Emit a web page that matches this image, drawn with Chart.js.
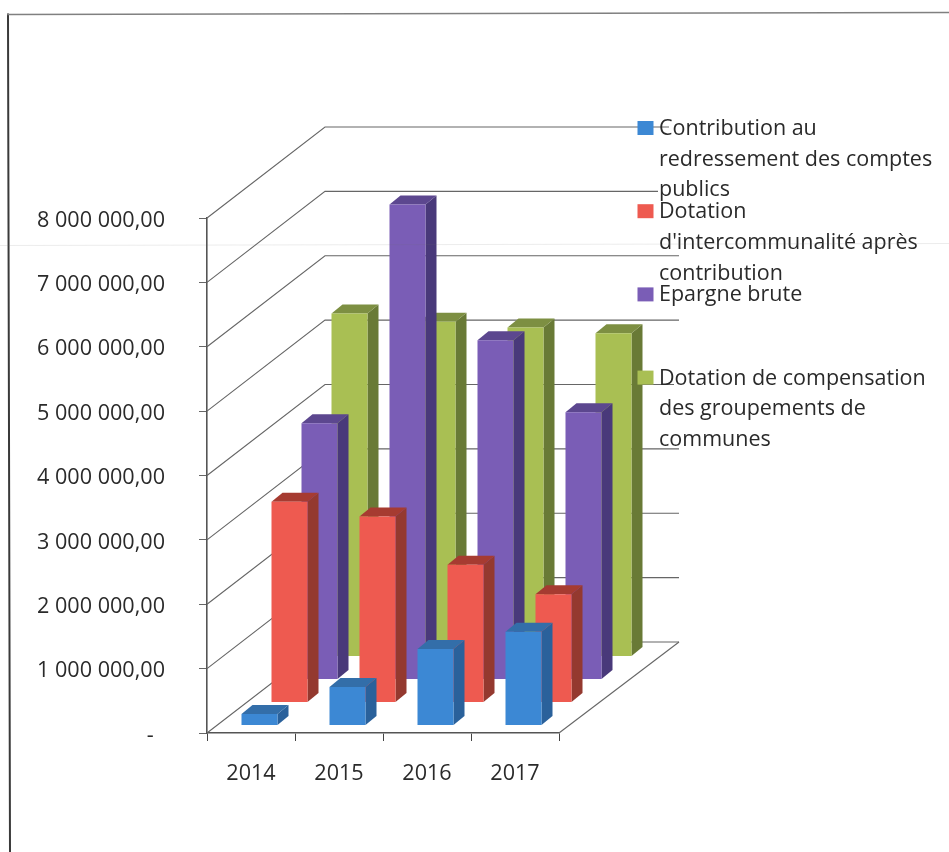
<!DOCTYPE html>
<html lang="fr">
<head>
<meta charset="utf-8">
<title>Dotations et épargne brute 2014-2017</title>
<script src="https://cdn.jsdelivr.net/npm/chart.js@4"></script>
<style>
  html, body { margin: 0; padding: 0; background: #fff; }
  canvas { display: block; }
</style>
</head>
<body>
<canvas id="chart" width="949" height="852"></canvas>
<script>
// Values per year
const categories = ['2014', '2015', '2016', '2017'];
const contribution = [180000, 600000, 1190000, 1455000];
const intercommunalite = [3120000, 2890000, 2140000, 1680000];
const epargneBrute = [3980000, 7380000, 5270000, 4150000];
const compensation = [5330000, 5200000, 5110000, 5020000];

const yTickLabels = ['-  ', '1 000 000,00', '2 000 000,00', '3 000 000,00', '4 000 000,00',
  '5 000 000,00', '6 000 000,00', '7 000 000,00', '8 000 000,00'];

const legendContribution = ['Contribution au', 'redressement des comptes', 'publics'];
const legendIntercommunalite = ['Dotation', "d'intercommunalité après", 'contribution'];
const legendEpargne = ['Epargne brute'];
const legendCompensation = ['Dotation de compensation', 'des groupements de', 'communes'];

const fontFamily = '"Open Sans", sans-serif';
const tickFontSize = 21.6;
const legendFontSize = 21.5;
const inkColor = '#2a2a2a';

// Oblique projection used for the box: full depth of the walls, one row of bars, one bar's depth
const boxDepth = { dx: 118, dy: 91 };
const firstRow = { dx: 8.5, dy: 7.5 };
const rowStep = { dx: 30, dy: 23 };
const barDepth = { dx: 11, dy: 9 };

const faces = [
  { front: '#3c88d4', side: '#2a619b', top: '#336ea9' },
  { front: '#ee5a50', side: '#94392f', top: '#a63b31' },
  { front: '#7a5db6', side: '#49397a', top: '#5c478f' },
  { front: '#a9bf53', side: '#697a36', top: '#7d8f42' }
];

// Back wall rules stop short where the legend text sits on top of them
const backRuleEnds = { 8000000: 669, 7000000: 658, 4000000: 674 };
const backRuleEnd = 679;

function polygon(ctx, pts, fill) {
  ctx.beginPath();
  pts.forEach(([x, y], i) => (i ? ctx.lineTo(x, y) : ctx.moveTo(x, y)));
  ctx.closePath();
  ctx.fillStyle = fill;
  ctx.fill();
}

const frame = {
  id: 'frame',
  beforeDraw(chart) {
    const { ctx } = chart;
    ctx.save();
    ctx.lineCap = 'square';
    ctx.strokeStyle = '#3a3a3a';
    ctx.lineWidth = 2;
    ctx.beginPath();
    ctx.moveTo(10, 852);
    ctx.lineTo(8, 14.5);
    ctx.stroke();
    ctx.strokeStyle = '#808080';
    ctx.lineWidth = 1.5;
    ctx.beginPath();
    ctx.moveTo(8, 14.5);
    ctx.lineTo(949, 12.5);
    ctx.stroke();
    ctx.restore();
  }
};

const walls = {
  id: 'walls',
  beforeDatasetsDraw(chart) {
    const { ctx, scales: { x, y } } = chart;
    ctx.save();
    ctx.strokeStyle = '#666';
    ctx.lineWidth = 1.1;
    y.ticks.forEach(tick => {
      const py = y.getPixelForValue(tick.value);
      ctx.beginPath();
      ctx.moveTo(x.left, py);
      ctx.lineTo(x.left + boxDepth.dx, py - boxDepth.dy);
      ctx.lineTo(backRuleEnds[tick.value] || backRuleEnd, py - boxDepth.dy);
      ctx.stroke();
    });
    // Right edge of the floor
    ctx.beginPath();
    ctx.moveTo(x.right, y.bottom);
    ctx.lineTo(backRuleEnd, y.bottom - boxDepth.dy);
    ctx.stroke();
    ctx.restore();
  }
};

const bars3d = {
  id: 'bars3d',
  afterDatasetsDraw(chart) {
    const { ctx } = chart;
    // Back row first so that nearer rows cover it
    for (let d = chart.data.datasets.length - 1; d >= 0; d--) {
      const shiftX = firstRow.dx + rowStep.dx * d;
      const shiftY = firstRow.dy + rowStep.dy * d;
      const colors = faces[d];
      chart.getDatasetMeta(d).data.forEach(bar => {
        const l = bar.x - bar.width / 2 + shiftX;
        const r = bar.x + bar.width / 2 + shiftX;
        const t = bar.y - shiftY;
        const b = bar.base - shiftY;
        polygon(ctx, [[r, t], [r + barDepth.dx, t - barDepth.dy], [r + barDepth.dx, b - barDepth.dy], [r, b]], colors.side);
        polygon(ctx, [[l, t], [l + barDepth.dx, t - barDepth.dy], [r + barDepth.dx, t - barDepth.dy], [r, t]], colors.top);
        polygon(ctx, [[l, t], [r, t], [r, b], [l, b]], colors.front);
      });
    }
  }
};

const sideLegend = {
  id: 'sideLegend',
  afterDraw(chart) {
    const { ctx } = chart;
    const entries = [legendContribution, legendIntercommunalite, legendEpargne, legendCompensation];
    ctx.save();
    ctx.font = legendFontSize + 'px ' + fontFamily;
    ctx.textAlign = 'left';
    ctx.textBaseline = 'alphabetic';
    entries.forEach((lines, i) => {
      const baseline = 135 + 83.2 * i;
      ctx.fillStyle = faces[i].front;
      ctx.fillRect(637.5, baseline - 14, 16, 14);
      ctx.fillStyle = inkColor;
      lines.forEach((text, n) => ctx.fillText(text, 659, baseline + n * 30.7));
    });
    ctx.restore();
  }
};

// Faint crease running across the sheet
const crease = {
  id: 'crease',
  afterDraw(chart) {
    const { ctx, width } = chart;
    ctx.save();
    ctx.strokeStyle = 'rgba(110,110,110,0.13)';
    ctx.lineWidth = 1;
    ctx.beginPath();
    ctx.moveTo(0, 245.5);
    ctx.lineTo(width, 243.5);
    ctx.stroke();
    ctx.restore();
  }
};

const invisible = 'rgba(0,0,0,0)';

new Chart(document.getElementById('chart'), {
  type: 'bar',
  data: {
    labels: categories,
    datasets: [
      { label: legendContribution.join(' '), data: contribution, backgroundColor: invisible },
      { label: legendIntercommunalite.join(' '), data: intercommunalite, backgroundColor: invisible },
      { label: legendEpargne.join(' '), data: epargneBrute, backgroundColor: invisible },
      { label: legendCompensation.join(' '), data: compensation, backgroundColor: invisible }
    ]
  },
  options: {
    responsive: false,
    animation: false,
    layout: { padding: { left: 0, right: 390, top: 218, bottom: 0 } },
    datasets: { bar: { grouped: false, barThickness: 36, borderWidth: 0 } },
    plugins: { legend: { display: false }, tooltip: { enabled: false }, colors: { enabled: false } },
    scales: {
      x: {
        afterFit(scale) { scale.height = 119; },
        border: { color: '#555', width: 1.6 },
        grid: { drawOnChartArea: false, drawTicks: true, tickLength: 8, color: '#444', offset: true },
        ticks: {
          color: inkColor, padding: 20, maxRotation: 0,
          font: { family: fontFamily, size: tickFontSize }
        }
      },
      y: {
        min: 0,
        max: 8000000,
        afterFit(scale) { scale.width = 207; },
        border: { color: '#555', width: 1.6 },
        grid: { drawOnChartArea: false, drawTicks: true, tickLength: 8, color: '#666' },
        ticks: {
          stepSize: 1000000,
          color: inkColor,
          padding: 34,
          labelOffset: 2.5,
          font: { family: fontFamily, size: tickFontSize },
          callback: (value) => yTickLabels[value / 1000000]
        }
      }
    }
  },
  plugins: [frame, walls, bars3d, sideLegend, crease]
});
</script>
</body>
</html>
